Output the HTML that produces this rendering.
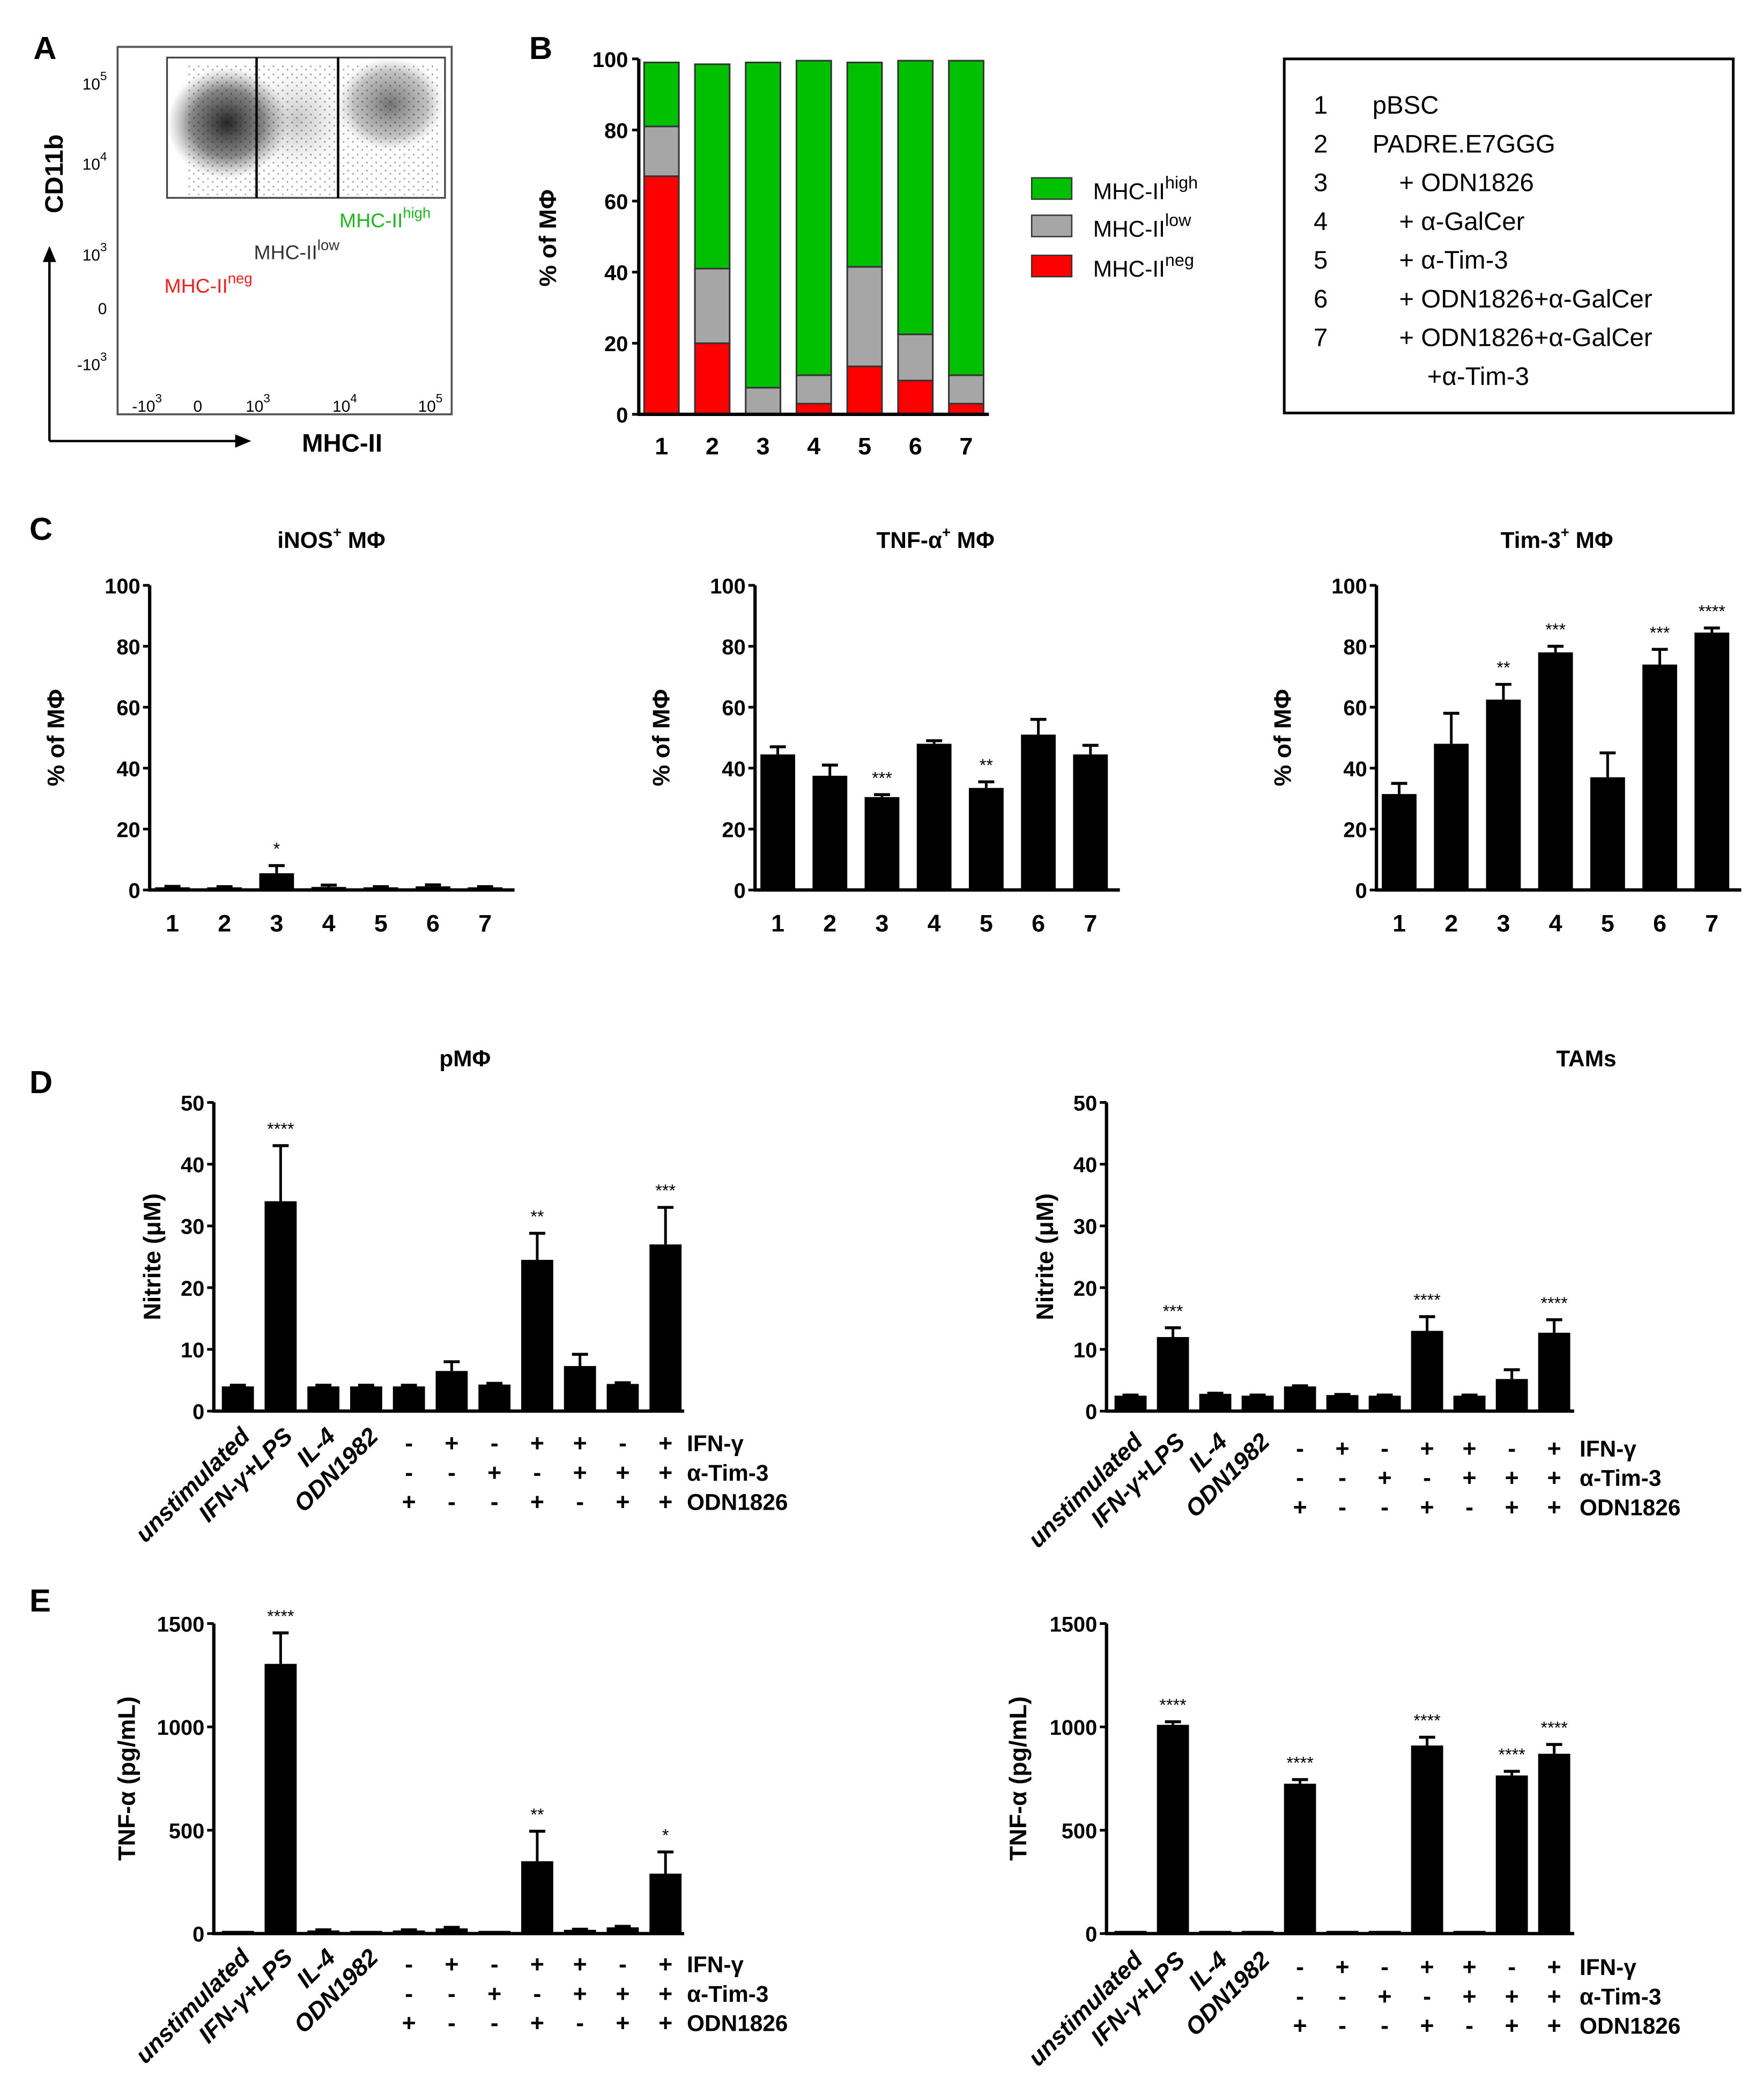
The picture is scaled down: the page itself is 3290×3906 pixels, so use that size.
<!DOCTYPE html>
<html><head><meta charset="utf-8">
<style>
html,body{margin:0;padding:0;background:#fff;}
svg{display:block;font-family:"Liberation Sans",Arial,sans-serif;}
</style></head>
<body>
<svg id="fig" width="3290" height="3906" viewBox="0 0 1320 1567" xmlns="http://www.w3.org/2000/svg">
<defs>
<radialGradient id="cloud1"><stop offset="0" stop-color="#000" stop-opacity="0.85"/><stop offset="0.6" stop-color="#222" stop-opacity="0.55"/><stop offset="1" stop-color="#555" stop-opacity="0"/></radialGradient>
<radialGradient id="cloud2"><stop offset="0" stop-color="#000" stop-opacity="0.55"/><stop offset="0.7" stop-color="#333" stop-opacity="0.3"/><stop offset="1" stop-color="#666" stop-opacity="0"/></radialGradient>
<radialGradient id="cloud3"><stop offset="0" stop-color="#444" stop-opacity="0.3"/><stop offset="1" stop-color="#888" stop-opacity="0"/></radialGradient>
<pattern id="speckle" width="7" height="6" patternUnits="userSpaceOnUse"><rect x="1" y="1" width="1.2" height="1.2" fill="#000"/><rect x="4.5" y="3.5" width="1.2" height="1.2" fill="#000"/></pattern>
</defs>
<g id="root"></g>
</svg>
<script>
// ---------- data ----------
const groupsB = ["1","2","3","4","5","6","7"];
const mhcNeg  = [67, 20, 0, 3, 13.5, 9.5, 3];
const mhcLow  = [14, 21, 7.5, 8, 28, 13, 8];
const mhcHigh = [18, 57.5, 91.5, 88.5, 57.5, 77, 88.5];
const ticksPct = [0,20,40,60,80,100];

const inosVal = [0.8, 0.8, 5.5, 1, 0.8, 1.2, 0.8];
const inosErr = [0.4, 0.3, 2.5, 0.6, 0.3, 0.5, 0.3];
const inosStars = ["","","*","","","",""];
const tnfVal = [44.5, 37.5, 30.5, 48, 33.5, 51, 44.5];
const tnfErr = [2.5, 3.5, 0.8, 1, 2, 5, 3];
const tnfStars = ["","","***","","**","",""];
const timVal = [31.5, 48, 62.5, 78, 37, 74, 84.5];
const timErr = [3.5, 10, 5, 2, 8, 5, 1.5];
const timStars = ["","","**","***","","***","****"];

const condNames = ["unstimulated","IFN-\u03b3+LPS","IL-4","ODN1982"];
const ifnRow  = ["-","+","-","+","+","-","+"];
const timRow  = ["-","-","+","-","+","+","+"];
const odnRow  = ["+","-","-","+","-","+","+"];

const nitPVal = [4, 34, 4, 4, 4, 6.5, 4.3, 24.5, 7.3, 4.4, 27];
const nitPErr = [0.2, 9, 0.2, 0.2, 0.2, 1.5, 0.2, 4.3, 1.9, 0.2, 6];
const nitPStars = ["","****","","","","","","**","","","***"];
const nitTVal = [2.5, 12, 2.8, 2.5, 4, 2.6, 2.5, 13, 2.5, 5.2, 12.7];
const nitTErr = [0.1, 1.5, 0.1, 0.1, 0.1, 0.1, 0.1, 2.3, 0.1, 1.5, 2.1];
const nitTStars = ["","***","","","","","","****","","","****"];
const ticksNit = [0,10,20,30,40,50];

const tnfPVal = [5, 1305, 15, 8, 15, 25, 5, 350, 18, 30, 290];
const tnfPErr = [0, 150, 3, 0, 3, 5, 0, 145, 3, 5, 105];
const tnfPStars = ["","****","","","","","","**","","","*"];
const tnfTVal = [5, 1010, 5, 5, 725, 5, 3, 910, 5, 765, 870];
const tnfTErr = [0, 15, 0, 0, 20, 0, 0, 40, 0, 20, 45];
const tnfTStars = ["","****","","","****","","","****","","****","****"];
const ticksTnf = [0,500,1000,1500];

// ---------- helpers ----------
const NS="http://www.w3.org/2000/svg";
const root=document.getElementById('root');
function el(tag, attrs, parent, txt){
  const e=document.createElementNS(NS,tag);
  for(const k in attrs) e.setAttribute(k,attrs[k]);
  if(txt!==undefined) e.textContent=txt;
  (parent||root).appendChild(e);
  return e;
}
function grp(name, parent){
  const g=el('g',{},parent);
  
  
  return g;
}
function txt(name, x, y, s, size, opts, parent){
  const a=Object.assign({x:x,y:y,'font-size':size,'font-weight':'bold',fill:'#000'},opts||{});
  const t=el('text',a,parent,s);
  
  
  return t;
}
function line(x1,y1,x2,y2,w,parent,color){
  return el('line',{x1:x1,y1:y1,x2:x2,y2:y2,stroke:color||'#000','stroke-width':w||2},parent);
}

// ---------- Panel A ----------
(function(){
  const g=grp('panel-a');
  txt('panel-label-a',25,44,'A',24,{},g);
  const plot=grp('flow-plot',g);
  el('rect',{x:88,y:35,width:250,height:275,fill:'none',stroke:'#555','stroke-width':1.5},plot);
  el('rect',{x:125,y:43,width:208,height:105,fill:'none',stroke:'#444','stroke-width':1.3},plot);
  el('ellipse',{cx:170,cy:92,rx:45,ry:42,fill:'url(#cloud1)'},plot);
  el('ellipse',{cx:222,cy:90,rx:40,ry:40,fill:'url(#cloud3)'},plot);
  el('ellipse',{cx:292,cy:78,rx:40,ry:35,fill:'url(#cloud2)'},plot);
  el('rect',{x:140,y:48,width:190,height:98,fill:'url(#speckle)',opacity:0.35},plot);
  line(192,43,192,148,1.8,plot);
  line(253,43,253,148,1.8,plot);
  const yt=[["10","5",62],["10","4",122],["10","3",190],["0","",230],["-10","3",272]];
  yt.forEach((t,i)=>{
    const tt=txt('y-tick-a-'+i,80,t[2]+5,t[0],12,{'font-weight':'normal','text-anchor':'end'},plot);
    if(t[1]) el('tspan',{dy:-7,'font-size':9},tt,t[1]);
  });
  const xt=[["-10","3",110],["0","",148],["10","3",193],["10","4",258],["10","5",322]];
  xt.forEach((t,i)=>{
    const tt=txt('x-tick-a-'+i,t[2],308,t[0],12,{'font-weight':'normal','text-anchor':'middle'},plot);
    if(t[1]) el('tspan',{dy:-7,'font-size':9},tt,t[1]);
  });
  line(37,330,37,192,1.8,g); el('path',{d:'M32,196 L37,184 L42,196 Z',fill:'#000'},g);
  line(37,330,178,330,1.8,g); el('path',{d:'M176,325 L188,330 L176,335 Z',fill:'#000'},g);
  txt('y-axis-title-a',0,0,'CD11b',19,{transform:'translate(47,130) rotate(-90)','text-anchor':'middle'},g);
  txt('x-axis-title-a',256,338,'MHC-II',19,{'text-anchor':'middle'},g);
  const h=txt('gate-label-high',254,170,'MHC-II',15,{'font-weight':'normal',fill:'#1db81d'},g);
  el('tspan',{dy:-7,'font-size':11},h,'high');
  const l=txt('gate-label-low',190,194,'MHC-II',15,{'font-weight':'normal',fill:'#333'},g);
  el('tspan',{dy:-7,'font-size':11},l,'low');
  const n=txt('gate-label-neg',123,219,'MHC-II',15,{'font-weight':'normal',fill:'#ee2020'},g);
  el('tspan',{dy:-7,'font-size':11},n,'neg');
})();

// ---------- Panel B ----------
(function(){
  const g=grp('panel-b');
  txt('panel-label-b',396,44,'B',24,{},g);
  const X0=478, Y0=310, Y100=44;
  const y=v=>Y0-(Y0-Y100)*v/100;
  const xc=i=>495+i*38;
  const bw=26;
  ticksPct.forEach(t=>{
    line(X0-5,y(t),X0,y(t),2,g);
    txt('y-tick-b-'+t,X0-8,y(t)+6,String(t),16,{'text-anchor':'end'},g);
  });
  groupsB.forEach((c,i)=>{
    const bg=grp('stacked-bar-'+c,g);
    let base=0;
    [[mhcNeg,'#ff0000','neg'],[mhcLow,'#a6a6a6','low'],[mhcHigh,'#00c000','high']].forEach(s=>{
      const v=s[0][i];
      const r=el('rect',{x:xc(i)-bw/2,y:y(base+v),width:bw,height:Math.max(0,y(base)-y(base+v)),fill:s[1],stroke:'#333','stroke-width':1.2},bg);
      
      
      base+=v;
    });
    txt('x-tick-b-'+c,xc(i),340,c,18,{'text-anchor':'middle'},g);
  });
  line(X0,Y100,X0,Y0+1,2.5,g);
  line(X0-1,Y0,740,Y0,2.5,g);
  txt('y-axis-title-b',0,0,'% of M\u03a6',18,{transform:'translate(416,178) rotate(-90)','text-anchor':'middle'},g);
  const lg=grp('legend-b',g);
  [['#00c000','high',133],['#a6a6a6','low',161],['#ff0000','neg',191]].forEach(e=>{
    const r=el('rect',{x:772,y:e[2],width:30,height:16,fill:e[0],stroke:'#333','stroke-width':1},lg);
    
    
    const t=txt('legend-entry-'+e[1],818,e[2]+16,'MHC-II',17,{'font-weight':'normal'},lg);
    el('tspan',{dy:-8,'font-size':13},t,e[1]);
  });
  const key=grp('group-key-box',g);
  el('rect',{x:961,y:44,width:336,height:265,fill:'none',stroke:'#000','stroke-width':2},key);
  const keyText=[["1","pBSC",1027],["2","PADRE.E7GGG",1027],["3","+ ODN1826",1047],["4","+ \u03b1-GalCer",1047],["5","+ \u03b1-Tim-3",1047],["6","+ ODN1826+\u03b1-GalCer",1047],["7","+ ODN1826+\u03b1-GalCer",1047],["","+\u03b1-Tim-3",1068]];
  keyText.forEach((k,i)=>{
    const yy=85+i*29;
    if(k[0]) txt('key-number-'+k[0],983,yy,k[0],19,{'font-weight':'normal'},key);
    txt('key-label-'+(i+1),k[2],yy,k[1],19,{'font-weight':'normal'},key);
  });
})();

// ---------- bar chart helper ----------
function barChart(o){
  const g=grp(o.name);
  const y=v=>o.y0-(o.y0-o.yTop)*v/o.max;
  o.ticks.forEach(t=>{
    line(o.x0-5,y(t),o.x0,y(t),2,g);
    txt(o.name+'-y-tick-'+t,o.x0-7,y(t)+6,String(t),o.tickSize||16,{'text-anchor':'end'},g);
  });
  o.vals.forEach((v,i)=>{
    const cx=o.cx(i);
    const bg=grp(o.name+'-bar-'+(i+1),g);
    const top=y(v+o.errs[i]);
    if(o.errs[i]>0){
      line(cx,y(v),cx,top,2,bg);
      line(cx-6,top,cx+6,top,2.2,bg);
    }
    const h=Math.max(2,o.y0-y(v));
    el('rect',{x:cx-o.bw/2,y:o.y0-h,width:o.bw,height:h,fill:'#000'},bg);
    if(o.stars[i]) txt(o.name+'-sig-'+(i+1),cx,top-8,o.stars[i],13,{'text-anchor':'middle','font-weight':'normal'},bg);
  });
  line(o.x0,o.yTop,o.x0,o.y0+1,2.5,g);
  line(o.x0-1,o.y0,o.xEnd,o.y0,2.5,g);
  txt(o.name+'-y-axis-title',0,0,o.ytitle,18,{transform:'translate('+o.ytx+','+((o.y0+o.yTop)/2)+') rotate(-90)','text-anchor':'middle'},g);
  if(o.xlabels){
    o.xlabels.forEach((l,i)=>txt(o.name+'-x-tick-'+l,o.cx(i),o.y0+31,l,18,{'text-anchor':'middle'},g));
  }
  return g;
}

// ---------- Panel C ----------
txt('panel-label-c',22,404,'C',24,{});
const cCharts=[
  {name:'inos-chart',x0:112,title:'iNOS',sup:'+',tx:248,vals:inosVal,errs:inosErr,stars:inosStars},
  {name:'tnf-chart',x0:565,title:'TNF-\u03b1',sup:'+',tx:700,vals:tnfVal,errs:tnfErr,stars:tnfStars},
  {name:'tim3-chart',x0:1030,title:'Tim-3',sup:'+',tx:1165,vals:timVal,errs:timErr,stars:timStars}
];
cCharts.forEach(c=>{
  const g=barChart({name:c.name,x0:c.x0,xEnd:c.x0+273,y0:666,yTop:438,max:100,ticks:ticksPct,vals:c.vals,errs:c.errs,stars:c.stars,
    cx:i=>c.x0+17+i*39,bw:26,ytitle:'% of M\u03a6',ytx:c.x0-64,xlabels:groupsB});
  const t=txt(c.name+'-title',c.tx,410,c.title,17,{'text-anchor':'middle'},g);
  el('tspan',{dy:-8,'font-size':11},t,c.sup);
  el('tspan',{dy:8},t,' M\u03a6');
});

// ---------- Panels D & E ----------
txt('panel-label-d',22,818,'D',24,{});
txt('panel-label-e',22,1206,'E',24,{});
txt('title-pmf',348,798,'pM\u03a6',17,{'text-anchor':'middle'});
txt('title-tams',1187,798,'TAMs',17,{'text-anchor':'middle'});

function condLabels(name,cx,yAxis,rows,rowX){
  const g=grp(name);
  condNames.forEach((c,i)=>{
    txt(name+'-cond-'+(i+1),0,0,c,18,{'font-style':'italic','text-anchor':'end',transform:'translate('+(cx(i)+10)+','+(yAxis+20)+') rotate(-45)'},g);
  });
  const rowNames=['IFN-\u03b3','\u03b1-Tim-3','ODN1826'];
  [ifnRow,timRow,odnRow].forEach((r,ri)=>{
    const yy=yAxis+30+ri*22;
    r.forEach((s,j)=>txt(name+'-sign-'+ri+'-'+j,cx(j+4),yy,s,18,{'text-anchor':'middle'},g));
    txt(name+'-row-label-'+(ri+1),rowX,yy,rowNames[ri],17,{},g);
  });
}
const dL={x0:160,cx:i=>178+i*32,end:512,rowX:514};
const dR={x0:828,cx:i=>846+i*31.7,end:1178,rowX:1182};
barChart({name:'nitrite-pmf-chart',x0:dL.x0,xEnd:dL.end,y0:1056,yTop:825,max:50,ticks:ticksNit,vals:nitPVal,errs:nitPErr,stars:nitPStars,cx:dL.cx,bw:24,ytitle:'Nitrite (\u03bcM)',ytx:120});
barChart({name:'nitrite-tams-chart',x0:dR.x0,xEnd:dR.end,y0:1056,yTop:825,max:50,ticks:ticksNit,vals:nitTVal,errs:nitTErr,stars:nitTStars,cx:dR.cx,bw:24,ytitle:'Nitrite (\u03bcM)',ytx:788});
condLabels('conditions-d-left',dL.cx,1056,null,dL.rowX);
condLabels('conditions-d-right',dR.cx,1060,null,dR.rowX);
barChart({name:'tnf-pmf-chart',x0:dL.x0,xEnd:dL.end,y0:1447,yTop:1215,max:1500,ticks:ticksTnf,vals:tnfPVal,errs:tnfPErr,stars:tnfPStars,cx:dL.cx,bw:24,ytitle:'TNF-\u03b1 (pg/mL)',ytx:101});
barChart({name:'tnf-tams-chart',x0:dR.x0,xEnd:dR.end,y0:1447,yTop:1215,max:1500,ticks:ticksTnf,vals:tnfTVal,errs:tnfTErr,stars:tnfTStars,cx:dR.cx,bw:24,ytitle:'TNF-\u03b1 (pg/mL)',ytx:768});
condLabels('conditions-e-left',dL.cx,1446,null,dL.rowX);
condLabels('conditions-e-right',dR.cx,1448,null,dR.rowX);
</script>
</body></html>
